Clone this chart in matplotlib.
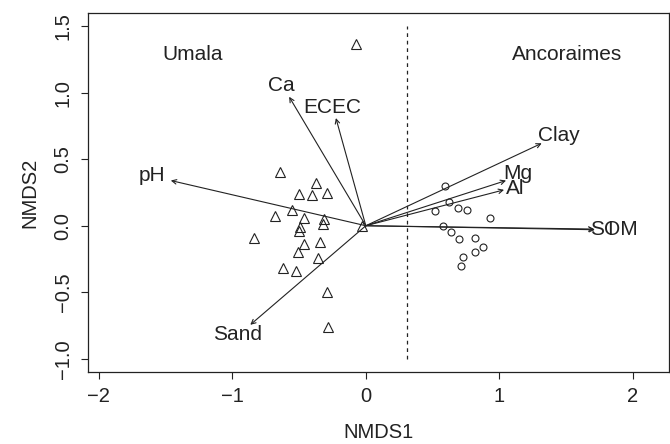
import matplotlib.pyplot as plt

plt.rcParams['font.family'] = ['Liberation Sans', 'DejaVu Sans']

# site scores (NMDS1, NMDS2)
umala_x = [-0.07, -0.64, -0.375, -0.497, -0.29, -0.40, -0.55, -0.68, -0.46, -0.31, -0.49,
           -0.32, -0.03, -0.50, -0.84, -0.46, -0.34, -0.51, -0.36, -0.62, -0.52, -0.29, -0.28]
umala_y = [1.37, 0.405, 0.32, 0.24, 0.245, 0.23, 0.12, 0.07, 0.06, 0.05, -0.01,
           0.01, 0.0, -0.04, -0.095, -0.14, -0.125, -0.20, -0.24, -0.32, -0.34, -0.495, -0.765]
ancor_x = [0.593, 0.62, 0.52, 0.69, 0.756, 0.93, 0.58, 0.64, 0.70, 0.82, 0.88, 0.82, 0.73, 0.715]
ancor_y = [0.30, 0.18, 0.11, 0.13, 0.12, 0.06, 0.0, -0.05, -0.10, -0.095, -0.16, -0.20, -0.235, -0.30]

# environmental vectors
env_names = ['pH', 'Ca', 'ECEC', 'Sand', 'Clay', 'Mg', 'Al', 'SOM', 'N']
env_x = [-1.46, -0.574, -0.224, -0.865, 1.317, 1.05, 1.035, 1.715, 1.71]
env_y = [0.34, 0.97, 0.81, -0.745, 0.62, 0.34, 0.27, -0.03, -0.025]
lab_x = [-1.60, -0.635, -0.25, -0.96, 1.445, 1.14, 1.12, 1.86, 1.87]
lab_y = [0.38, 1.055, 0.89, -0.82, 0.68, 0.39, 0.28, -0.03, -0.03]

fig = plt.figure(figsize=(6.7, 4.44), dpi=100)
ax = fig.add_axes([88 / 670, 72 / 444, 581 / 670, 359 / 444])

ax.plot(umala_x, umala_y, linestyle='none', marker='^', markersize=6.5,
        markerfacecolor='none', markeredgecolor='#222222', markeredgewidth=0.8)
ax.plot(ancor_x, ancor_y, linestyle='none', marker='o', markersize=5,
        markerfacecolor='none', markeredgecolor='#222222', markeredgewidth=0.8)

for name, x, y, tx, ty in zip(env_names, env_x, env_y, lab_x, lab_y):
    ax.annotate('', xy=(x, y), xytext=(0, 0),
                arrowprops=dict(arrowstyle='->', color='#222222', lw=0.8,
                                mutation_scale=8, shrinkA=0, shrinkB=0))
    if name == 'N':
        ax.text(tx - 0.04, ty, 'I', ha='center', va='center', fontsize=15, color='#222222')
    else:
        ax.text(tx, ty, name, ha='center', va='center', fontsize=15, color='#222222')

ax.plot([0.31, 0.31], [-1.0, 1.5], linestyle=(0, (3, 3)), color='#222222', lw=0.9)

ax.text(-1.30, 1.29, 'Umala', ha='center', va='center', fontsize=15, color='#222222')
ax.text(1.506, 1.29, 'Ancoraimes', ha='center', va='center', fontsize=15, color='#222222')

ax.set_xlim(-2.08, 2.27)
ax.set_ylim(-1.10, 1.60)
ax.set_xticks([-2, -1, 0, 1, 2])
ax.set_xticklabels(['\u22122', '\u22121', '0', '1', '2'])
ax.set_yticks([-1.0, -0.5, 0.0, 0.5, 1.0, 1.5])
ax.set_yticklabels(['\u22121.0', '\u22120.5', '0.0', '0.5', '1.0', '1.5'],
                   rotation=90, va='center')
ax.tick_params(labelsize=14.5, length=5, width=0.8, colors='#222222', pad=6)
for s in ax.spines.values():
    s.set_linewidth(0.9)
    s.set_color('#222222')

ax.set_xlabel('NMDS1', fontsize=14.5, color='#222222', labelpad=12)
ax.set_ylabel('NMDS2', fontsize=14.5, color='#222222', labelpad=10)

fig.savefig('out.png', dpi=100)
